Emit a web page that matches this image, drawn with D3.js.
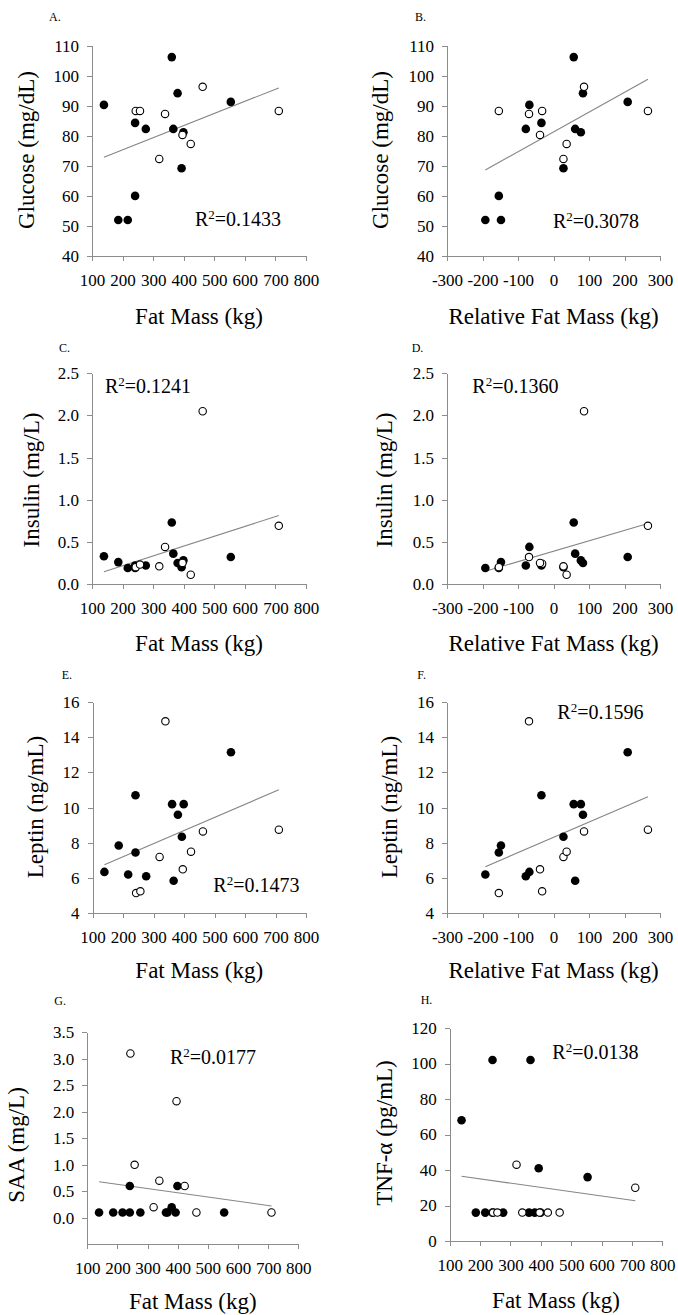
<!DOCTYPE html>
<html>
<head>
<meta charset="utf-8">
<script src="https://cdn.jsdelivr.net/npm/d3@7"></script>
<style>
body { margin: 0; background: #fff; }
#chart, #chart text { font-family: 'Liberation Serif', Tinos, 'Times New Roman', 'DejaVu Serif', serif; }
#chart text { fill: #000; }
.axis path, .axis line { stroke: #8c8c8c; stroke-width: 1; shape-rendering: crispEdges; }
.axis text { font-size: 17px; fill: #000; }
</style>
</head>
<body>
<svg id="chart" width="678" height="1315" font-family="Liberation Serif, serif"></svg>
<script>
'use strict';

// one entry per animal, filled and open circles kept apart
var fatFilled = [139, 186, 217, 241, 241, 276, 361, 366, 380, 393, 399, 554];
var fatOpen = [243, 257, 320, 339, 396, 423, 462, 711];
var relFilled = [-68, -148, -192, -34, -154, -78, 57, 61, 83, 28, 77, 209];
var relOpen = [-154, -32, 28, -69, -38, 37, 86, 266];

var glucoseFilled = [90.3, 52, 52, 84.3, 60, 82.3, 106.2, 82.3, 94.2, 69.2, 81.2, 91.3];
var glucoseOpen = [88.3, 88.3, 72.3, 87.3, 80.3, 77.3, 96.3, 88.3];

var insulinFilled = [0.33, 0.26, 0.19, 0.22, 0.19, 0.22, 0.73, 0.36, 0.25, 0.2, 0.28, 0.32];
var insulinOpen = [0.2, 0.23, 0.21, 0.44, 0.25, 0.11, 2.05, 0.69];
// panel D draws the pair near -68 swapped
var insulinRelFilled = [0.44, 0.26, 0.19, 0.22, 0.19, 0.22, 0.73, 0.36, 0.25, 0.2, 0.28, 0.32];
var insulinRelOpen = [0.2, 0.24, 0.21, 0.32, 0.25, 0.11, 2.05, 0.69];

var leptinFilled = [6.35, 7.85, 6.2, 10.7, 7.45, 6.1, 10.2, 5.85, 9.6, 8.35, 10.2, 13.15];
var leptinOpen = [5.15, 5.25, 7.2, 14.9, 6.5, 7.5, 8.65, 8.75];

var saaFilled = [0.1, 0.1, 0.1, 0.6, 0.1, 0.1, 0.1, 0.1, 0.2, 0.1, 0.6, 0.1];
var saaOpen = [3.1, 1.0, 0.2, 0.7, 2.2, 0.6, 0.1, 0.1];

var tnfFilled = [68, 16, 16, 102, 16, 16, 16, 102, 16, 41, 16, 36];
var tnfOpen = [16, 16, 43, 16, 16, 16, 16, 30];

var fatTicks = [100, 200, 300, 400, 500, 600, 700, 800];
var relTicks = [-300, -200, -100, 0, 100, 200, 300];
var r2Labels = ['0.1433', '0.3078', '0.1241', '0.1360', '0.1473', '0.1596', '0.0177', '0.0138'];

var svg = d3.select('#chart');

var panels = [
    { tag: 'A.', xf: fatFilled, xo: fatOpen, yf: glucoseFilled, yo: glucoseOpen, xTicks: fatTicks,
      yDomain: [40, 110], yTicks: d3.range(40, 111, 10), fmt: 'd',
      box: [92, 306, 45.7, 256], yTitle: 'Glucose (mg/dL)', yTitlePos: [34, 150],
      xTitle: 'Fat Mass (kg)', xTitleY: 324, tagPos: [49, 20.7], r2Pos: [195, 225.7] },
    { tag: 'B.', xf: relFilled, xo: relOpen, yf: glucoseFilled, yo: glucoseOpen, xTicks: relTicks,
      yDomain: [40, 110], yTicks: d3.range(40, 111, 10), fmt: 'd',
      box: [447, 660, 45.7, 256], yTitle: 'Glucose (mg/dL)', yTitlePos: [388, 150],
      xTitle: 'Relative Fat Mass (kg)', xTitleY: 324, tagPos: [415, 20.7], r2Pos: [553, 227.7] },
    { tag: 'C.', xf: fatFilled, xo: fatOpen, yf: insulinFilled, yo: insulinOpen, xTicks: fatTicks,
      yDomain: [0, 2.5], yTicks: d3.range(0, 2.51, 0.5), fmt: '.1f',
      box: [92, 306, 373.3, 584], yTitle: 'Insulin (mg/L)', yTitlePos: [39, 480],
      xTitle: 'Fat Mass (kg)', xTitleY: 651, tagPos: [59, 351.7], r2Pos: [105, 393.3] },
    { tag: 'D.', xf: relFilled, xo: relOpen, yf: insulinRelFilled, yo: insulinRelOpen, xTicks: relTicks,
      yDomain: [0, 2.5], yTicks: d3.range(0, 2.51, 0.5), fmt: '.1f',
      box: [447, 660, 373.3, 584], yTitle: 'Insulin (mg/L)', yTitlePos: [392, 480],
      xTitle: 'Relative Fat Mass (kg)', xTitleY: 651, tagPos: [411.7, 351.7], r2Pos: [472.3, 393.3] },
    { tag: 'E.', xf: fatFilled, xo: fatOpen, yf: leptinFilled, yo: leptinOpen, xTicks: fatTicks,
      yDomain: [4, 16], yTicks: d3.range(4, 17, 2), fmt: 'd',
      box: [92.5, 306, 702, 913.3], yTitle: 'Leptin (ng/mL)', yTitlePos: [43, 807],
      xTitle: 'Fat Mass (kg)', xTitleY: 978, tagPos: [61.7, 679.3], r2Pos: [213.3, 892.3] },
    { tag: 'F.', xf: relFilled, xo: relOpen, yf: leptinFilled, yo: leptinOpen, xTicks: relTicks,
      yDomain: [4, 16], yTicks: d3.range(4, 17, 2), fmt: 'd',
      box: [447, 660, 702, 913.3], yTitle: 'Leptin (ng/mL)', yTitlePos: [397, 807],
      xTitle: 'Relative Fat Mass (kg)', xTitleY: 978, tagPos: [417.3, 679.3], r2Pos: [557.3, 719] },
    { tag: 'G.', xf: fatFilled, xo: fatOpen, yf: saaFilled, yo: saaOpen, xTicks: fatTicks,
      yDomain: [-0.5, 3.5], yTicks: d3.range(0, 3.51, 0.5), fmt: '.1f',
      box: [87.3, 298.3, 1032.3, 1244.3], yTitle: 'SAA (mg/L)', yTitlePos: [24, 1145],
      xTitle: 'Fat Mass (kg)', xTitleY: 1309, tagPos: [54.3, 1005], r2Pos: [170, 1064] },
    { tag: 'H.', xf: fatFilled, xo: fatOpen, yf: tnfFilled, yo: tnfOpen, xTicks: fatTicks,
      yDomain: [0, 120], yTicks: d3.range(0, 121, 20), fmt: 'd',
      box: [449.7, 662.3, 1028, 1241], yTitle: 'TNF-\u03b1 (pg/mL)', yTitlePos: [392, 1133],
      xTitle: 'Fat Mass (kg)', xTitleY: 1308, tagPos: [420.7, 1004.3], r2Pos: [552.3, 1059] }
];

// least squares line through every point of a panel
function fit(xs, ys) {
    var mx = d3.mean(xs), my = d3.mean(ys), sxy = 0, sxx = 0;
    xs.forEach(function (v, i) {
        sxy += (v - mx) * (ys[i] - my);
        sxx += (v - mx) * (v - mx);
    });
    var slope = sxy / sxx;
    return function (v) { return my + slope * (v - mx); };
}

function drawPanel(p, i) {
    var left = p.box[0], right = p.box[1], top = p.box[2], bottom = p.box[3];
    var x = d3.scaleLinear().domain(d3.extent(p.xTicks)).range([left, right]);
    var y = d3.scaleLinear().domain(p.yDomain).range([bottom, top]);
    var g = svg.append('g');

    g.append('g').attr('class', 'axis')
        .attr('transform', 'translate(0,' + bottom + ')')
        .call(d3.axisBottom(x).tickValues(p.xTicks).tickSize(5).tickSizeOuter(0).tickPadding(13)
            .tickFormat(function (d) { return String(d); }));

    g.append('g').attr('class', 'axis')
        .attr('transform', 'translate(' + left + ',0)')
        .call(d3.axisLeft(y).tickValues(p.yTicks).tickSize(5).tickSizeOuter(0).tickPadding(8)
            .tickFormat(d3.format(p.fmt)));

    // d3 puts sans-serif on the axis groups, drop it so the serif face applies
    g.selectAll('.axis').attr('font-family', null).attr('font-size', null);

    var xs = p.xf.concat(p.xo), ys = p.yf.concat(p.yo);
    var line = fit(xs, ys), ext = d3.extent(xs);
    g.append('line')
        .attr('x1', x(ext[0])).attr('y1', y(line(ext[0])))
        .attr('x2', x(ext[1])).attr('y2', y(line(ext[1])))
        .attr('stroke', '#858585').attr('stroke-width', 1.1);

    g.selectAll('circle.filled').data(p.xf).enter().append('circle')
        .attr('class', 'filled')
        .attr('cx', function (d) { return x(d); })
        .attr('cy', function (d, j) { return y(p.yf[j]); })
        .attr('r', 4.3).attr('fill', '#000');

    g.selectAll('circle.open').data(p.xo).enter().append('circle')
        .attr('class', 'open')
        .attr('cx', function (d) { return x(d); })
        .attr('cy', function (d, j) { return y(p.yo[j]); })
        .attr('r', 3.7).attr('fill', '#fff').attr('stroke', '#000').attr('stroke-width', 1.1);

    var r2 = g.append('text').attr('x', p.r2Pos[0]).attr('y', p.r2Pos[1]).style('font-size', '20px');
    r2.append('tspan').text('R');
    r2.append('tspan').attr('dy', -7).style('font-size', '13px').text('2');
    r2.append('tspan').attr('dy', 7).text('=' + r2Labels[i]);

    g.append('text').attr('x', p.tagPos[0]).attr('y', p.tagPos[1])
        .style('font-size', '12px').text(p.tag);

    g.append('text').attr('x', (left + right) / 2).attr('y', p.xTitleY)
        .attr('text-anchor', 'middle').style('font-size', '23px').text(p.xTitle);

    g.append('text')
        .attr('transform', 'translate(' + p.yTitlePos[0] + ',' + p.yTitlePos[1] + ') rotate(-90)')
        .attr('text-anchor', 'middle').style('font-size', '23px').text(p.yTitle);
}

panels.forEach(drawPanel);
</script>
</body>
</html>
